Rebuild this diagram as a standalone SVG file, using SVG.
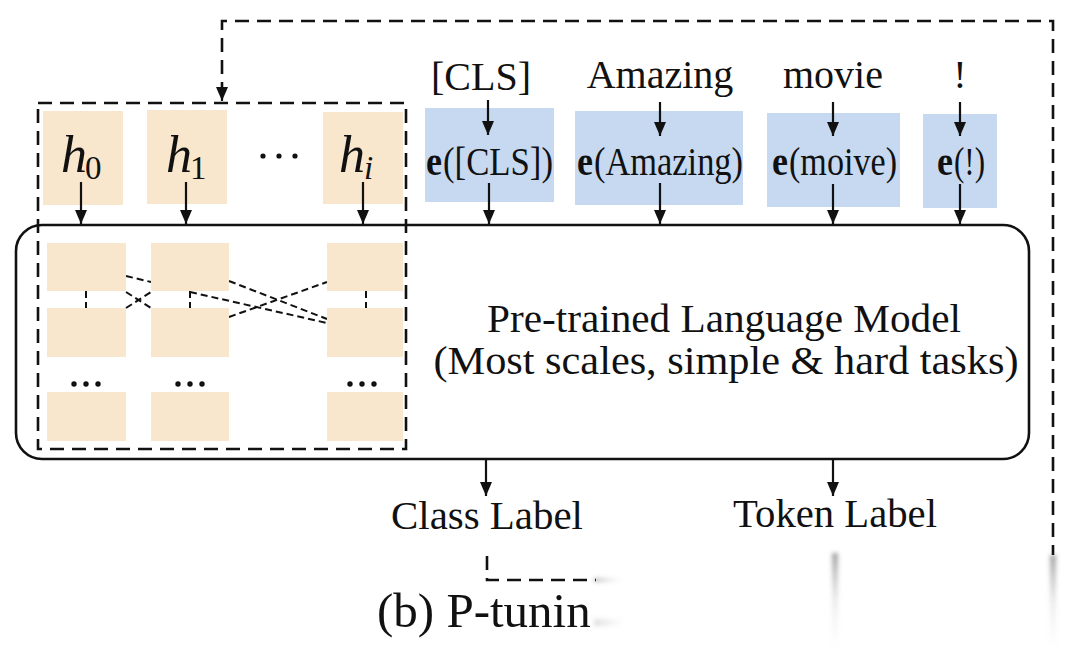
<svg xmlns="http://www.w3.org/2000/svg" width="1080" height="652" viewBox="0 0 1080 652">
<defs>
<style>
.t{font-family:"Liberation Serif","Times New Roman",serif;fill:#111;}
.b{font-weight:bold;}
.beige{fill:#f8e6cd;}
.blue{fill:#c6d9f1;}
.arr{stroke:#111;stroke-width:2.2;fill:none;marker-end:url(#ah);}
.dash{stroke:#111;stroke-width:2.6;fill:none;stroke-dasharray:14 8;}
.dash2{stroke:#111;stroke-width:2;fill:none;stroke-dasharray:7 4;}
</style>
<marker id="ah" viewBox="0 0 14 12" refX="14" refY="6" markerWidth="14" markerHeight="12" markerUnits="userSpaceOnUse" orient="auto">
<path d="M0,0 L14,6 L0,12 z" fill="#111"/>
</marker>
<linearGradient id="fadeV" x1="0" y1="0" x2="0" y2="1">
<stop offset="0" stop-color="#444" stop-opacity="0.5"/>
<stop offset="0.5" stop-color="#888" stop-opacity="0.15"/>
<stop offset="1" stop-color="#bbb" stop-opacity="0"/>
</linearGradient>
<linearGradient id="fadeH" x1="0" y1="0" x2="1" y2="0">
<stop offset="0" stop-color="#666" stop-opacity="0.45"/>
<stop offset="1" stop-color="#bbb" stop-opacity="0"/>
</linearGradient>
<filter id="blur" x="-50%" y="-10%" width="200%" height="120%">
<feGaussianBlur stdDeviation="2"/>
</filter>
</defs>
<rect width="1080" height="652" fill="#ffffff"/>

<!-- model -->
<g id="model">
<rect x="16" y="225" width="1013" height="234" rx="26" ry="26" fill="#fff" stroke="#111" stroke-width="2.6"/>
<text class="t" x="724" y="332" font-size="39" text-anchor="middle" textLength="474" lengthAdjust="spacingAndGlyphs">Pre-trained Language Model</text>
<text class="t" x="726" y="374" font-size="39" text-anchor="middle" textLength="585" lengthAdjust="spacingAndGlyphs">(Most scales, simple &amp; hard tasks)</text>
</g>

<!-- inner prompt layers -->
<g id="prompt-layers">
<g class="dash2">
<line x1="126" y1="276" x2="151" y2="282"/>
<line x1="126" y1="292" x2="151" y2="308"/>
<line x1="126" y1="308" x2="151" y2="292"/>
<line x1="190" y1="292" x2="327" y2="323"/>
<line x1="229" y1="281" x2="327" y2="319"/>
<line x1="229" y1="317" x2="327" y2="282"/>
<line x1="86" y1="291" x2="86" y2="308"/>
<line x1="190" y1="291" x2="190" y2="308"/>
<line x1="366" y1="291" x2="366" y2="308"/>
</g>
<rect class="beige" x="47" y="243" width="79" height="48"/>
<rect class="beige" x="151" y="243" width="78" height="48"/>
<rect class="beige" x="327" y="243" width="76" height="48"/>
<rect class="beige" x="47" y="308" width="79" height="49"/>
<rect class="beige" x="151" y="308" width="78" height="49"/>
<rect class="beige" x="327" y="308" width="76" height="49"/>
<rect class="beige" x="47" y="392" width="79" height="49"/>
<rect class="beige" x="151" y="392" width="78" height="49"/>
<rect class="beige" x="327" y="392" width="76" height="49"/>
<g fill="#111">
<circle cx="74" cy="384" r="2.7"/><circle cx="86" cy="384" r="2.7"/><circle cx="98" cy="384" r="2.7"/>
<circle cx="178" cy="384" r="2.7"/><circle cx="190" cy="384" r="2.7"/><circle cx="202" cy="384" r="2.7"/>
<circle cx="350" cy="384" r="2.7"/><circle cx="362" cy="384" r="2.7"/><circle cx="374" cy="384" r="2.7"/>
</g>
</g>

<!-- h prompts -->
<g id="h0">
<rect class="beige" x="43" y="111" width="80" height="94"/>
<text class="t" x="61" y="172" font-size="52"><tspan font-style="italic">h</tspan><tspan font-size="33" dx="-2" dy="7">0</tspan></text>
</g>
<g id="h1">
<rect class="beige" x="147" y="110" width="80" height="94"/>
<text class="t" x="166" y="172" font-size="52"><tspan font-style="italic">h</tspan><tspan font-size="33" dx="-2" dy="7">1</tspan></text>
</g>
<g id="hdots" fill="#111">
<circle cx="263" cy="156" r="2.6"/><circle cx="279" cy="156" r="2.6"/><circle cx="295" cy="156" r="2.6"/>
</g>
<g id="hi">
<rect class="beige" x="323" y="112" width="80" height="92"/>
<text class="t" x="339" y="172" font-size="52"><tspan font-style="italic">h</tspan><tspan font-size="33" font-style="italic" dx="-1" dy="7">i</tspan></text>
</g>

<g id="prompt-box">
<rect x="38" y="103" width="368" height="346" class="dash" stroke-dasharray="12 7"/>
</g>

<!-- embeddings -->
<g id="e-cls">
<text class="t" x="481" y="90" font-size="40" text-anchor="middle">[CLS]</text>
<rect class="blue" x="425" y="108" width="129" height="94"/>
<text class="t b" x="426" y="175" font-size="40" textLength="16" lengthAdjust="spacingAndGlyphs">e</text>
<text class="t" x="443" y="175" font-size="40" textLength="110" lengthAdjust="spacingAndGlyphs">([CLS])</text>
</g>
<g id="e-amazing">
<text class="t" x="660" y="88" font-size="40" text-anchor="middle">Amazing</text>
<rect class="blue" x="575" y="111" width="168" height="94"/>
<text class="t b" x="577" y="175" font-size="40" textLength="16" lengthAdjust="spacingAndGlyphs">e</text>
<text class="t" x="594" y="175" font-size="40" textLength="149" lengthAdjust="spacingAndGlyphs">(Amazing)</text>
</g>
<g id="e-movie">
<text class="t" x="833" y="88" font-size="40" text-anchor="middle">movie</text>
<rect class="blue" x="767" y="113" width="133" height="94"/>
<text class="t b" x="772" y="175" font-size="40" textLength="16" lengthAdjust="spacingAndGlyphs">e</text>
<text class="t" x="789" y="175" font-size="40" textLength="108" lengthAdjust="spacingAndGlyphs">(moive)</text>
</g>
<g id="e-excl">
<text class="t" x="960" y="88" font-size="40" text-anchor="middle">!</text>
<rect class="blue" x="923" y="114" width="74" height="94"/>
<text class="t b" x="937" y="175" font-size="40" textLength="16" lengthAdjust="spacingAndGlyphs">e</text>
<text class="t" x="954" y="175" font-size="40" textLength="31" lengthAdjust="spacingAndGlyphs">(!)</text>
</g>

<!-- outputs -->
<g id="class-label">
<text class="t" x="487" y="529" font-size="40.5" text-anchor="middle" textLength="192" lengthAdjust="spacingAndGlyphs">Class Label</text>
</g>
<g id="token-label">
<text class="t" x="835" y="527" font-size="40.5" text-anchor="middle" textLength="204" lengthAdjust="spacingAndGlyphs">Token Label</text>
</g>
<g id="caption">
<text class="t" x="377" y="627" font-size="49">(b) P-tunin</text>
</g>

<!-- connectors -->
<g id="connectors">
<line class="arr" x1="81" y1="182" x2="81" y2="224"/>
<line class="arr" x1="186" y1="182" x2="186" y2="224"/>
<line class="arr" x1="363" y1="182" x2="363" y2="224"/>
<line class="arr" x1="488" y1="100" x2="488" y2="135"/>
<line class="arr" x1="660" y1="102" x2="660" y2="136"/>
<line class="arr" x1="833" y1="102" x2="833" y2="136"/>
<line class="arr" x1="960" y1="102" x2="960" y2="136"/>
<line class="arr" x1="489" y1="183" x2="489" y2="224"/>
<line class="arr" x1="660" y1="183" x2="660" y2="224"/>
<line class="arr" x1="833" y1="184" x2="833" y2="224"/>
<line class="arr" x1="960" y1="184" x2="960" y2="224"/>
<line class="arr" x1="486" y1="460" x2="486" y2="496"/>
<line class="arr" x1="833" y1="460" x2="833" y2="496"/>
<path class="dash" d="M1053,555 V21 H222 V101" stroke-dashoffset="4"/>
<path d="M222,88 L222,101" stroke="#111" stroke-width="2.2" marker-end="url(#ah)"/>
<path class="dash" d="M487,556 V580 H596" stroke-dasharray="12 7"/>
<g filter="url(#blur)">
<rect x="594" y="578" width="28" height="4" fill="url(#fadeH)"/>
<rect x="594" y="619" width="32" height="7" fill="url(#fadeH)" opacity="0.5"/>
<rect x="832" y="553" width="6" height="97" fill="url(#fadeV)"/>
<rect x="1050" y="555" width="6" height="97" fill="url(#fadeV)"/>
</g>
</g>
</svg>
